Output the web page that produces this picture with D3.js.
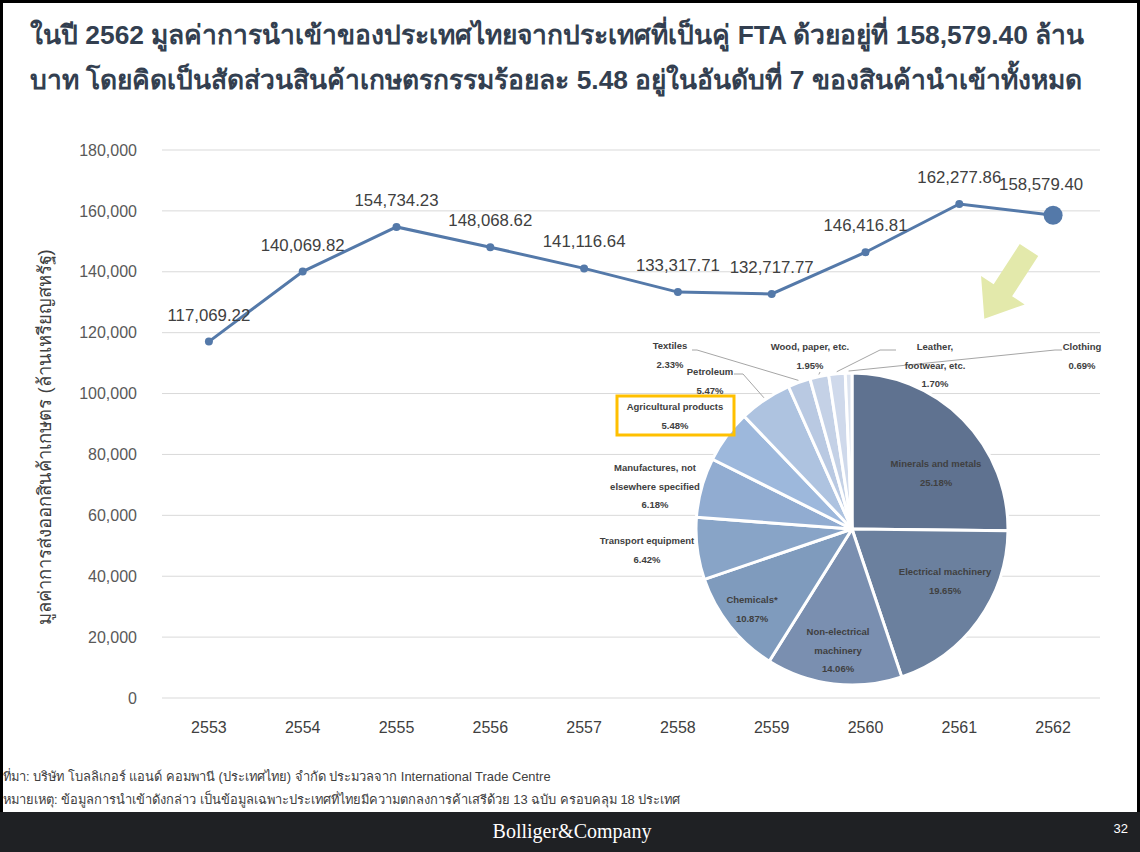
<!DOCTYPE html>
<html>
<head>
<meta charset="utf-8">
<script src="https://cdn.jsdelivr.net/npm/d3@7"></script>
<style>
  body { margin: 0; background: #fff; }
  svg { display: block; font-family: Arial, "Liberation Sans", sans-serif; }
</style>
</head>
<body>
<div id="chart"></div>
<script>
// line chart data: import value from FTA partners (million baht)
var years = ["2553", "2554", "2555", "2556", "2557", "2558", "2559", "2560", "2561", "2562"];
var importValues = [117069.22, 140069.82, 154734.23, 148068.62, 141116.64, 133317.71, 132717.77, 146416.81, 162277.86, 158579.40];
var yTicks = [0, 20000, 40000, 60000, 80000, 100000, 120000, 140000, 160000, 180000];

// pie data: share of imports by product group in 2562 (%)
var productGroups = ["Minerals and metals", "Electrical machinery", "Non-electrical machinery", "Chemicals*",
  "Transport equipment", "Manufactures, not elsewhere specified", "Agricultural products", "Petroleum",
  "Textiles", "Wood, paper, etc.", "Leather, footwear, etc.", "Clothing"];
var productShares = [25.18, 19.65, 14.06, 10.87, 6.42, 6.18, 5.48, 5.47, 2.33, 1.95, 1.70, 0.69];

// texts
var titleLines = [
  "ในปี 2562 มูลค่าการนำเข้าของประเทศไทยจากประเทศที่เป็นคู่ FTA ด้วยอยู่ที่ 158,579.40 ล้าน",
  "บาท โดยคิดเป็นสัดส่วนสินค้าเกษตรกรรมร้อยละ 5.48 อยู่ในอันดับที่ 7 ของสินค้านำเข้าทั้งหมด"
];
var yTitle = "มูลค่าการส่งออกสินค้าเกษตร (ล้านเหรียญสหรัฐ)";
var notes = [
  "ที่มา: บริษัท โบลลิเกอร์ แอนด์ คอมพานี (ประเทศไทย) จำกัด ประมวลจาก International Trade Centre",
  "หมายเหตุ: ข้อมูลการนำเข้าดังกล่าว เป็นข้อมูลเฉพาะประเทศที่ไทยมีความตกลงการค้าเสรีด้วย 13 ฉบับ ครอบคลุม 18 ประเทศ"
];

// pie slice colours, dark to light
var sliceColors = ["#5f7290", "#6b809e", "#7a8fb0", "#7f9bbd", "#88a4c7", "#91acd1", "#9db8dc",
  "#aec3e0", "#b9c9e2", "#c4d1e6", "#cfd9eb", "#dce3ef"];

// label placement for the pie (relative to pie centre): lines, x, y of first line, leader elbow points
var pieLabelLayout = {
  "Minerals and metals": { lines: ["Minerals and metals"], x: 84, y: -65 },
  "Electrical machinery": { lines: ["Electrical machinery"], x: 93, y: 43 },
  "Non-electrical machinery": { lines: ["Non-electrical", "machinery"], x: -14, y: 103 },
  "Chemicals*": { lines: ["Chemicals*"], x: -100, y: 71 },
  "Transport equipment": { lines: ["Transport equipment"], x: -205, y: 12 },
  "Manufactures, not elsewhere specified": { lines: ["Manufactures, not", "elsewhere specified"], x: -197, y: -61 },
  "Agricultural products": { lines: ["Agricultural products"], x: -177, y: -122, box: true },
  "Petroleum": { lines: ["Petroleum"], x: -142, y: -157, leader: [[-118, -155], [-109, -155]] },
  "Textiles": { lines: ["Textiles"], x: -182, y: -183, leader: [[-160, -179], [-155, -179]] },
  "Wood, paper, etc.": { lines: ["Wood, paper, etc."], x: -42, y: -182, leader: [[-32, -157]] },
  "Leather, footwear, etc.": { lines: ["Leather,", "footwear, etc."], x: 83, y: -182, leader: [[44, -179], [28, -179]] },
  "Clothing": { lines: ["Clothing"], x: 230, y: -182, leader: [[210, -179], [203, -179]] }
};

var W = 1140, H = 852;
var margin = {top: 150, right: 40, bottom: 154, left: 162},
    width = 1100 - margin.left,
    height = 698 - margin.top;

var svg = d3.select("#chart").append("svg")
    .attr("width", W)
    .attr("height", H);

// slide frame
svg.append("rect")
    .attr("x", 1.5).attr("y", 1.5)
    .attr("width", W - 3).attr("height", 812)
    .attr("fill", "none")
    .attr("stroke", "#000")
    .attr("stroke-width", 3);

// title
svg.append("g").selectAll("text")
    .data(titleLines)
    .join("text")
    .attr("x", 30)
    .attr("y", function(d, i) { return 44 + i * 45; })
    .attr("font-size", 26.4)
    .attr("font-weight", "bold")
    .attr("fill", "#333f50")
    .text(function(d) { return d; });

var g = svg.append("g")
    .attr("transform", "translate(" + margin.left + "," + margin.top + ")");

// scales
var x = d3.scaleBand().domain(years).range([0, width]);
var y = d3.scaleLinear().domain([0, 180000]).range([height, 0]);

// gridlines
g.append("g").selectAll("line")
    .data(yTicks)
    .join("line")
    .attr("x1", 0).attr("x2", width)
    .attr("y1", function(d) { return y(d); })
    .attr("y2", function(d) { return y(d); })
    .attr("stroke", "#d9d9d9")
    .attr("stroke-width", 1);

// y axis
var yAxis = g.append("g")
    .call(d3.axisLeft(y).tickValues(yTicks).tickFormat(d3.format(",")).tickSize(0).tickPadding(25));
yAxis.select(".domain").remove();
yAxis.selectAll("text")
    .attr("font-size", 16)
    .attr("font-family", "Arial, 'Liberation Sans', sans-serif")
    .attr("fill", "#595959");

// x axis
var xAxis = g.append("g")
    .attr("transform", "translate(0," + height + ")")
    .call(d3.axisBottom(x).tickSize(0).tickPadding(24));
xAxis.select(".domain").remove();
xAxis.selectAll("text")
    .attr("font-size", 16)
    .attr("font-family", "Arial, 'Liberation Sans', sans-serif")
    .attr("fill", "#404040");

// y axis title
svg.append("text")
    .attr("transform", "translate(51,437) rotate(-90)")
    .attr("text-anchor", "middle")
    .attr("font-size", 18.4)
    .attr("fill", "#404040")
    .text(yTitle);

// pie
var pieCx = 852, pieCy = 529, pieR = 156;
var pie = d3.pie().sort(null).value(function(d) { return d.share; });
var arc = d3.arc().innerRadius(0).outerRadius(pieR);
var pieData = productGroups.map(function(name, i) { return {name: name, share: productShares[i]}; });
var arcs = pie(pieData);
var color = d3.scaleOrdinal().domain(productGroups).range(sliceColors);

var pg = svg.append("g")
    .attr("transform", "translate(" + pieCx + "," + pieCy + ")");

pg.selectAll("path.slice")
    .data(arcs)
    .join("path")
    .attr("class", "slice")
    .attr("d", arc)
    .attr("fill", function(d) { return color(d.data.name); })
    .attr("stroke", "#fff")
    .attr("stroke-width", 3)
    .attr("stroke-linejoin", "round");

// leader lines
var edgeArc = d3.arc().innerRadius(pieR + 2).outerRadius(pieR + 2);
pg.selectAll("path.leader")
    .data(arcs.filter(function(d) { return pieLabelLayout[d.data.name].leader; }))
    .join("path")
    .attr("class", "leader")
    .attr("fill", "none")
    .attr("stroke", "#a6a6a6")
    .attr("stroke-width", 1)
    .attr("d", function(d) {
      var pts = pieLabelLayout[d.data.name].leader.slice();
      pts.push(edgeArc.centroid(d));
      return d3.line()(pts);
    });

// slice labels
var lineGap = 18.5;
var labels = pg.selectAll("g.plabel")
    .data(arcs)
    .join("g")
    .attr("class", "plabel")
    .attr("transform", function(d) {
      var L = pieLabelLayout[d.data.name];
      return "translate(" + L.x + "," + L.y + ")";
    });

labels.filter(function(d) { return pieLabelLayout[d.data.name].box; })
    .append("rect")
    .attr("x", -58).attr("y", -11)
    .attr("width", 117).attr("height", 39)
    .attr("fill", "none")
    .attr("stroke", "#ffc000")
    .attr("stroke-width", 3);

labels.each(function(d) {
  var L = pieLabelLayout[d.data.name];
  var lines = L.lines.concat([d3.format(".2f")(d.data.share) + "%"]);
  d3.select(this).selectAll("text")
    .data(lines)
    .join("text")
    .attr("y", function(t, i) { return i * lineGap; })
    .attr("dy", "0.35em")
    .attr("text-anchor", "middle")
    .attr("font-size", 9.5)
    .attr("font-weight", "bold")
    .attr("fill", "#404040")
    .text(function(t) { return t; });
});

// highlight arrow pointing to the pie
svg.append("path")
    .attr("transform", "translate(1029,250) rotate(33)")
    .attr("d", "M-11,0 L11,0 L11,48 L26,48 L0,82 L-26,48 L-11,48 Z")
    .attr("fill", "#e3e9ab");

// line series
var line = d3.line()
    .x(function(d, i) { return x(years[i]) + x.bandwidth() / 2; })
    .y(function(d) { return y(d); });

g.append("path")
    .datum(importValues)
    .attr("fill", "none")
    .attr("stroke", "#5479a9")
    .attr("stroke-width", 3)
    .attr("d", line);

g.selectAll("circle.pt")
    .data(importValues)
    .join("circle")
    .attr("class", "pt")
    .attr("cx", function(d, i) { return x(years[i]) + x.bandwidth() / 2; })
    .attr("cy", function(d) { return y(d); })
    .attr("r", function(d, i) { return i === importValues.length - 1 ? 9.5 : 4; })
    .attr("fill", "#5479a9");

g.selectAll("text.val")
    .data(importValues)
    .join("text")
    .attr("class", "val")
    .attr("x", function(d, i) { return x(years[i]) + x.bandwidth() / 2 + (i === importValues.length - 1 ? -12 : 0); })
    .attr("y", function(d, i) { return y(d) - (i === importValues.length - 1 ? 25 : 21); })
    .attr("text-anchor", "middle")
    .attr("font-size", 16.8)
    .attr("fill", "#404040")
    .text(function(d) { return d3.format(",.2f")(d); });

// footnotes
svg.append("g").selectAll("text")
    .data(notes)
    .join("text")
    .attr("x", 3)
    .attr("y", function(d, i) { return 781 + i * 23; })
    .attr("font-size", 12.9)
    .attr("fill", "#404040")
    .text(function(d) { return d; });

// footer bar
svg.append("rect")
    .attr("x", 0).attr("y", 812)
    .attr("width", W).attr("height", H - 812)
    .attr("fill", "#1f2124");

svg.append("text")
    .attr("x", 572).attr("y", 838)
    .attr("text-anchor", "middle")
    .attr("font-family", "'Liberation Serif', 'DejaVu Serif', serif")
    .attr("font-size", 20)
    .attr("fill", "#fff")
    .text("Bolliger&Company");

svg.append("text")
    .attr("x", 1128).attr("y", 833)
    .attr("text-anchor", "end")
    .attr("font-size", 13)
    .attr("fill", "#fff")
    .text("32");
</script>
</body>
</html>
